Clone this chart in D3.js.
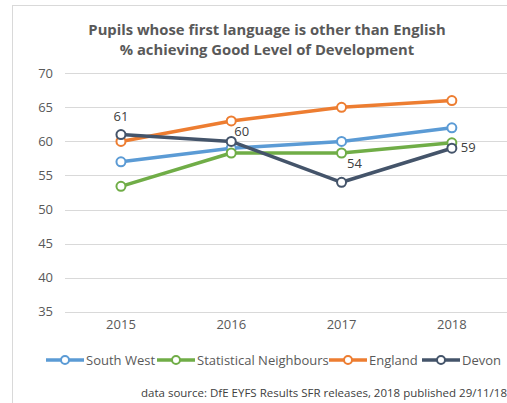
<!DOCTYPE html>
<html>
<head>
<meta charset="utf-8">
<script src="https://cdn.jsdelivr.net/npm/d3@7"></script>
<style>
  body { margin: 0; background: #fff; }
  svg { display: block; font-family: "Open Sans", "Liberation Sans", sans-serif; }
</style>
</head>
<body>
<div id="chart-area"></div>
<script>
// data
var years = ["2015", "2016", "2017", "2018"];
var seriesNames = ["South West", "Statistical Neighbours", "England", "Devon"];
var southWest = [57, 59, 60, 62];
var statNeighbours = [53.4, 58.3, 58.3, 59.8];
var england = [60, 63, 65, 66];
var devon = [61, 60, 54, 59];
var yTicks = [35, 40, 45, 50, 55, 60, 65, 70];
var colors = ["#5B9BD5", "#70AD47", "#ED7D31", "#44546A"];

var series = [southWest, statNeighbours, england, devon].map(function(vals, i){
  return { name: seriesNames[i], color: colors[i], values: vals };
});

var W = 507, H = 403;
var svg = d3.select("#chart-area").append("svg")
  .attr("width", W).attr("height", H);

// chart frame
svg.append("rect")
  .attr("x", 12.5).attr("y", 5.5)
  .attr("width", W).attr("height", H)
  .attr("fill", "#fff").attr("stroke", "#d9d9d9");

// title
var title = svg.append("text")
  .attr("text-anchor", "middle")
  .attr("font-size", "14.8px")
  .attr("font-weight", "bold")
  .attr("fill", "#595959");
title.append("tspan").attr("x", 267).attr("y", 34.5).text("Pupils whose first language is other than English");
title.append("tspan").attr("x", 267).attr("y", 55).text("% achieving Good Level of Development");

var x = d3.scaleBand()
  .domain(years)
  .range([65.8, 507]);

var y = d3.scaleLinear()
  .domain([35, 70])
  .range([311.7, 73.3]);

// gridlines
svg.append("g").selectAll("line")
  .data(yTicks)
  .enter().append("line")
    .attr("x1", 65).attr("x2", W)
    .attr("y1", function(d){ return Math.round(y(d)) + 0.5; })
    .attr("y2", function(d){ return Math.round(y(d)) + 0.5; })
    .attr("stroke", "#d9d9d9").attr("stroke-width", 1);

// y axis labels
var yAxis = d3.axisLeft(y).tickValues(yTicks).tickSize(0).tickPadding(0);
var yG = svg.append("g").attr("transform", "translate(53,0)").call(yAxis);
yG.select(".domain").remove();
yG.selectAll("text").attr("fill", "#595959").attr("font-size", "13px")
  .attr("font-family", "'Open Sans', sans-serif");

// x axis labels
var xAxis = d3.axisBottom(x).tickSize(0).tickPadding(0);
var xG = svg.append("g").attr("transform", "translate(0,320)").call(xAxis);
xG.select(".domain").remove();
xG.selectAll("text").attr("fill", "#595959").attr("font-size", "13px")
  .attr("font-family", "'Open Sans', sans-serif");

var cx = function(i){ return x(years[i]) + x.bandwidth() / 2; };
var line = d3.line()
  .x(function(d, i){ return cx(i); })
  .y(function(d){ return y(d); });

var sg = svg.selectAll(".series")
  .data(series)
  .enter().append("g").attr("class", "series");

sg.append("path")
  .attr("d", function(d){ return line(d.values); })
  .attr("fill", "none")
  .attr("stroke", function(d){ return d.color; })
  .attr("stroke-width", 3.5)
  .attr("stroke-linejoin", "round");

sg.selectAll("circle")
  .data(function(d){ return d.values.map(function(v, i){ return { v: v, i: i, color: d.color }; }); })
  .enter().append("circle")
    .attr("cx", function(d){ return cx(d.i); })
    .attr("cy", function(d){ return y(d.v); })
    .attr("r", 4.5)
    .attr("fill", "#fff")
    .attr("stroke", function(d){ return d.color; })
    .attr("stroke-width", 2);

// Devon data labels
var labelPos = [
  { dx: 0, dy: -14, anchor: "middle" },
  { dx: 3, dy: -5, anchor: "start" },
  { dx: 13, dy: -14, anchor: "middle" },
  { dx: 9, dy: 4, anchor: "start" }
];
svg.append("g").selectAll("text")
  .data(devon)
  .enter().append("text")
    .attr("x", function(d, i){ return cx(i) + labelPos[i].dx; })
    .attr("y", function(d, i){ return y(d) + labelPos[i].dy; })
    .attr("text-anchor", function(d, i){ return labelPos[i].anchor; })
    .attr("font-size", "13px")
    .attr("fill", "#404040")
    .text(function(d){ return d; });

// legend
var legendX = [46, 157, 329, 422];
var lg = svg.selectAll(".legend")
  .data(series)
  .enter().append("g")
    .attr("class", "legend")
    .attr("transform", function(d, i){ return "translate(" + legendX[i] + ",360)"; });
lg.append("line")
  .attr("x1", 0).attr("x2", 38)
  .attr("stroke", function(d){ return d.color; })
  .attr("stroke-width", 3.5);
lg.append("circle")
  .attr("cx", 19).attr("r", 4)
  .attr("fill", "#fff")
  .attr("stroke", function(d){ return d.color; })
  .attr("stroke-width", 2);
lg.append("text")
  .attr("x", 40).attr("y", 4.5)
  .attr("font-size", "13px")
  .attr("fill", "#595959")
  .text(function(d){ return d.name; });

// source note
svg.append("text")
  .attr("x", 141).attr("y", 397)
  .attr("font-size", "11.5px")
  .attr("fill", "#404040")
  .text("data source: DfE EYFS Results SFR releases, 2018 published 29/11/18");
</script>
</body>
</html>
